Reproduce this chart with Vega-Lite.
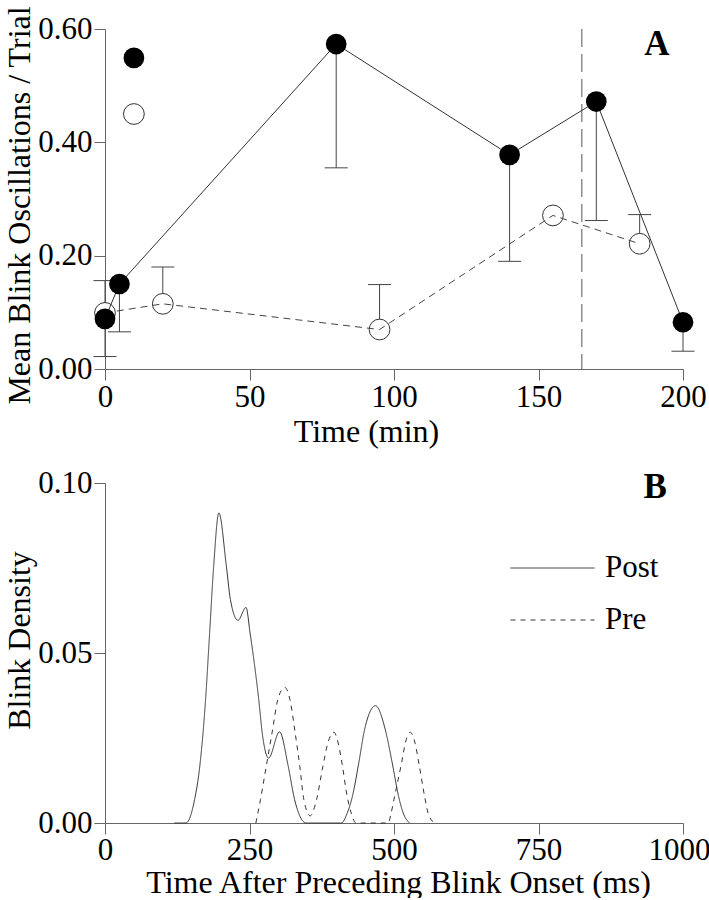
{
  "$schema": "https://vega.github.io/schema/vega-lite/v6.json",
  "background": "white",
  "padding": {"left": 3, "top": 5, "right": 5, "bottom": 0},
  "config": {
    "font": "Liberation Serif",
    "view": {"stroke": null},
    "axis": {
      "grid": false,
      "labelFont": "Liberation Serif",
      "labelFontSize": 31,
      "labelColor": "black",
      "titleFont": "Liberation Serif",
      "titleFontSize": 32,
      "titleFontWeight": "normal",
      "titleColor": "black",
      "domainColor": "#666",
      "tickColor": "#666",
      "tickSize": 11,
      "labelPadding": 2,
      "labelFlush": false,
      "labelOverlap": false
    },
    "axisX": {"encode": {"ticks": {"update": {"y": {"value": -10}}}}},
    "axisY": {"encode": {"ticks": {"update": {"x": {"value": 11}}}}}
  },
  "spacing": 114,
  "bounds": "flush",
  "vconcat": [
    {
      "width": 578,
      "height": 340,
      "data": {
        "values": [
          {"series": "Post", "time": 0, "mean": 0.0885, "bound": 0.022, "joined": 1},
          {"series": "Post", "time": 5, "mean": 0.150, "bound": 0.0656, "joined": 1},
          {"series": "Post", "time": 10, "mean": 0.549, "bound": null, "joined": 0},
          {"series": "Post", "time": 80, "mean": 0.5735, "bound": 0.355, "joined": 1},
          {"series": "Post", "time": 140, "mean": 0.378, "bound": 0.190, "joined": 1},
          {"series": "Post", "time": 170, "mean": 0.472, "bound": 0.262, "joined": 1},
          {"series": "Post", "time": 200, "mean": 0.0825, "bound": 0.0314, "joined": 1},
          {"series": "Pre", "time": 0, "mean": 0.099, "bound": 0.156, "joined": 1},
          {"series": "Pre", "time": 10, "mean": 0.450, "bound": null, "joined": 0},
          {"series": "Pre", "time": 20, "mean": 0.115, "bound": 0.180, "joined": 1},
          {"series": "Pre", "time": 95, "mean": 0.0697, "bound": 0.149, "joined": 1},
          {"series": "Pre", "time": 155, "mean": 0.271, "bound": null, "joined": 1},
          {"series": "Pre", "time": 185, "mean": 0.221, "bound": 0.2725, "joined": 1}
        ]
      },
      "encoding": {
        "x": {
          "field": "time", "type": "quantitative",
          "scale": {"domain": [0, 200], "nice": false, "zero": false},
          "axis": {"values": [0, 50, 100, 150, 200], "title": "Time (min)", "titleX": 261, "titlePadding": 4}
        },
        "y": {
          "field": "mean", "type": "quantitative",
          "scale": {"domain": [0, 0.6], "nice": false},
          "axis": {"values": [0, 0.2, 0.4, 0.6], "format": ".2f", "title": "Mean Blink Oscillations / Trial", "titleY": 176, "titlePadding": 1}
        }
      },
      "layer": [
        {
          "data": {"values": [{"time": 165}]},
          "mark": {"type": "rule", "color": "#555", "strokeWidth": 1, "strokeDash": [18, 7]},
          "encoding": {"x": {"field": "time", "type": "quantitative"}, "y": null}
        },
        {
          "transform": [{"filter": "datum.bound != null"}],
          "mark": {"type": "rule", "color": "#444", "strokeWidth": 1},
          "encoding": {"y2": {"field": "bound"}}
        },
        {
          "transform": [{"filter": "datum.bound != null"}],
          "mark": {"type": "tick", "orient": "horizontal", "size": 23, "thickness": 1, "color": "#444", "opacity": 1},
          "encoding": {"y": {"field": "bound", "type": "quantitative"}}
        },
        {
          "transform": [{"filter": "datum.series == 'Pre'"}],
          "mark": {"type": "point", "shape": "circle", "size": 430, "filled": true, "fill": "white", "stroke": "#333", "strokeWidth": 1, "opacity": 1}
        },
        {
          "transform": [{"filter": "datum.series == 'Pre' && datum.joined == 1"}],
          "mark": {"type": "line", "color": "#444", "strokeWidth": 1, "strokeDash": [7, 5]}
        },
        {
          "transform": [{"filter": "datum.series == 'Post' && datum.joined == 1"}],
          "mark": {"type": "line", "color": "#333", "strokeWidth": 1}
        },
        {
          "transform": [{"filter": "datum.series == 'Post'"}],
          "mark": {"type": "point", "shape": "circle", "size": 430, "filled": true, "color": "black", "opacity": 1}
        },
        {
          "data": {"values": [{"panel": "A", "time": 191, "mean": 0.574}]},
          "mark": {"type": "text", "font": "Liberation Serif", "fontWeight": "bold", "fontSize": 35, "color": "black", "baseline": "middle", "align": "center"},
          "encoding": {"text": {"field": "panel"}}
        }
      ]
    },
    {
      "width": 578,
      "height": 340,
      "layer": [
        {
          "data": {
            "values": [
              {"group": "Post", "ms": 120, "density": 0},
              {"group": "Post", "ms": 140, "density": 0},
              {"group": "Post", "ms": 155, "density": 0.0069},
              {"group": "Post", "ms": 164, "density": 0.0167},
              {"group": "Post", "ms": 174, "density": 0.0363},
              {"group": "Post", "ms": 181, "density": 0.0559},
              {"group": "Post", "ms": 188, "density": 0.0755},
              {"group": "Post", "ms": 197, "density": 0.0912},
              {"group": "Post", "ms": 210, "density": 0.0755},
              {"group": "Post", "ms": 217, "density": 0.0657},
              {"group": "Post", "ms": 230, "density": 0.0596},
              {"group": "Post", "ms": 244, "density": 0.0634},
              {"group": "Post", "ms": 251, "density": 0.0559},
              {"group": "Post", "ms": 259, "density": 0.0461},
              {"group": "Post", "ms": 266, "density": 0.0363},
              {"group": "Post", "ms": 272, "density": 0.0265},
              {"group": "Post", "ms": 283, "density": 0.0191},
              {"group": "Post", "ms": 302, "density": 0.0268},
              {"group": "Post", "ms": 317, "density": 0.0167},
              {"group": "Post", "ms": 328, "density": 0.0069},
              {"group": "Post", "ms": 348, "density": 0},
              {"group": "Post", "ms": 409, "density": 0},
              {"group": "Post", "ms": 419, "density": 0.0029},
              {"group": "Post", "ms": 428, "density": 0.0078},
              {"group": "Post", "ms": 439, "density": 0.0176},
              {"group": "Post", "ms": 449, "density": 0.0274},
              {"group": "Post", "ms": 468, "density": 0.0345},
              {"group": "Post", "ms": 485, "density": 0.0274},
              {"group": "Post", "ms": 497, "density": 0.0176},
              {"group": "Post", "ms": 508, "density": 0.0078},
              {"group": "Post", "ms": 516, "density": 0.0029},
              {"group": "Post", "ms": 527, "density": 0},
              {"group": "Pre", "ms": 261, "density": 0},
              {"group": "Pre", "ms": 269, "density": 0.0069},
              {"group": "Pre", "ms": 279, "density": 0.0167},
              {"group": "Pre", "ms": 289, "density": 0.0265},
              {"group": "Pre", "ms": 299, "density": 0.0363},
              {"group": "Pre", "ms": 311, "density": 0.0399},
              {"group": "Pre", "ms": 320, "density": 0.0363},
              {"group": "Pre", "ms": 329, "density": 0.0265},
              {"group": "Pre", "ms": 337, "density": 0.0167},
              {"group": "Pre", "ms": 344, "density": 0.0069},
              {"group": "Pre", "ms": 355, "density": 0.0021},
              {"group": "Pre", "ms": 366, "density": 0.0069},
              {"group": "Pre", "ms": 377, "density": 0.0167},
              {"group": "Pre", "ms": 386, "density": 0.0238},
              {"group": "Pre", "ms": 396, "density": 0.0267},
              {"group": "Pre", "ms": 403, "density": 0.0238},
              {"group": "Pre", "ms": 410, "density": 0.0176},
              {"group": "Pre", "ms": 419, "density": 0.0078},
              {"group": "Pre", "ms": 426, "density": 0.0029},
              {"group": "Pre", "ms": 434, "density": 0},
              {"group": "Pre", "ms": 490, "density": 0},
              {"group": "Pre", "ms": 495, "density": 0.0029},
              {"group": "Pre", "ms": 501, "density": 0.0078},
              {"group": "Pre", "ms": 513, "density": 0.0176},
              {"group": "Pre", "ms": 520, "density": 0.0238},
              {"group": "Pre", "ms": 528, "density": 0.0267},
              {"group": "Pre", "ms": 536, "density": 0.0238},
              {"group": "Pre", "ms": 543, "density": 0.0176},
              {"group": "Pre", "ms": 553, "density": 0.0078},
              {"group": "Pre", "ms": 559, "density": 0.0029},
              {"group": "Pre", "ms": 570, "density": 0}
            ]
          },
          "mark": {"type": "line", "color": "#333", "strokeWidth": 1, "interpolate": "monotone"},
          "encoding": {
            "x": {
              "field": "ms", "type": "quantitative",
              "scale": {"domain": [0, 1000], "nice": false, "zero": false},
              "axis": {
                "values": [0, 250, 500, 750, 1000], "format": "d",
                "labelOffset": {"condition": {"test": "datum.value == 1000", "value": -4}, "value": 0},
                "title": "Time After Preceding Blink Onset (ms)", "titleX": 293, "titlePadding": 2, "labelPadding": 1
              }
            },
            "y": {
              "field": "density", "type": "quantitative",
              "scale": {"domain": [0, 0.1], "nice": false},
              "axis": {"values": [0, 0.05, 0.1], "format": ".2f", "title": "Blink Density", "titleY": 157, "titlePadding": 1}
            },
            "strokeDash": {
              "field": "group", "type": "nominal",
              "scale": {"domain": ["Post", "Pre"], "range": [[1, 0], [5, 5]]},
              "legend": {
                "orient": "none", "legendX": 405, "legendY": 524, "title": null,
                "symbolType": "stroke", "symbolSize": 7056, "symbolStrokeWidth": 1, "symbolStrokeColor": "#333",
                "labelFont": "Liberation Serif", "labelFontSize": 31, "labelColor": "black",
                "labelOffset": 10, "clipHeight": 30, "rowPadding": 21, "padding": 0
              }
            }
          }
        },
        {
          "data": {"values": [{"panel": "B", "ms": 952, "density": 0.0987}]},
          "mark": {"type": "text", "font": "Liberation Serif", "fontWeight": "bold", "fontSize": 35, "color": "black", "baseline": "middle", "align": "center"},
          "encoding": {
            "x": {"field": "ms", "type": "quantitative"},
            "y": {"field": "density", "type": "quantitative"},
            "text": {"field": "panel"}
          }
        }
      ]
    }
  ]
}
